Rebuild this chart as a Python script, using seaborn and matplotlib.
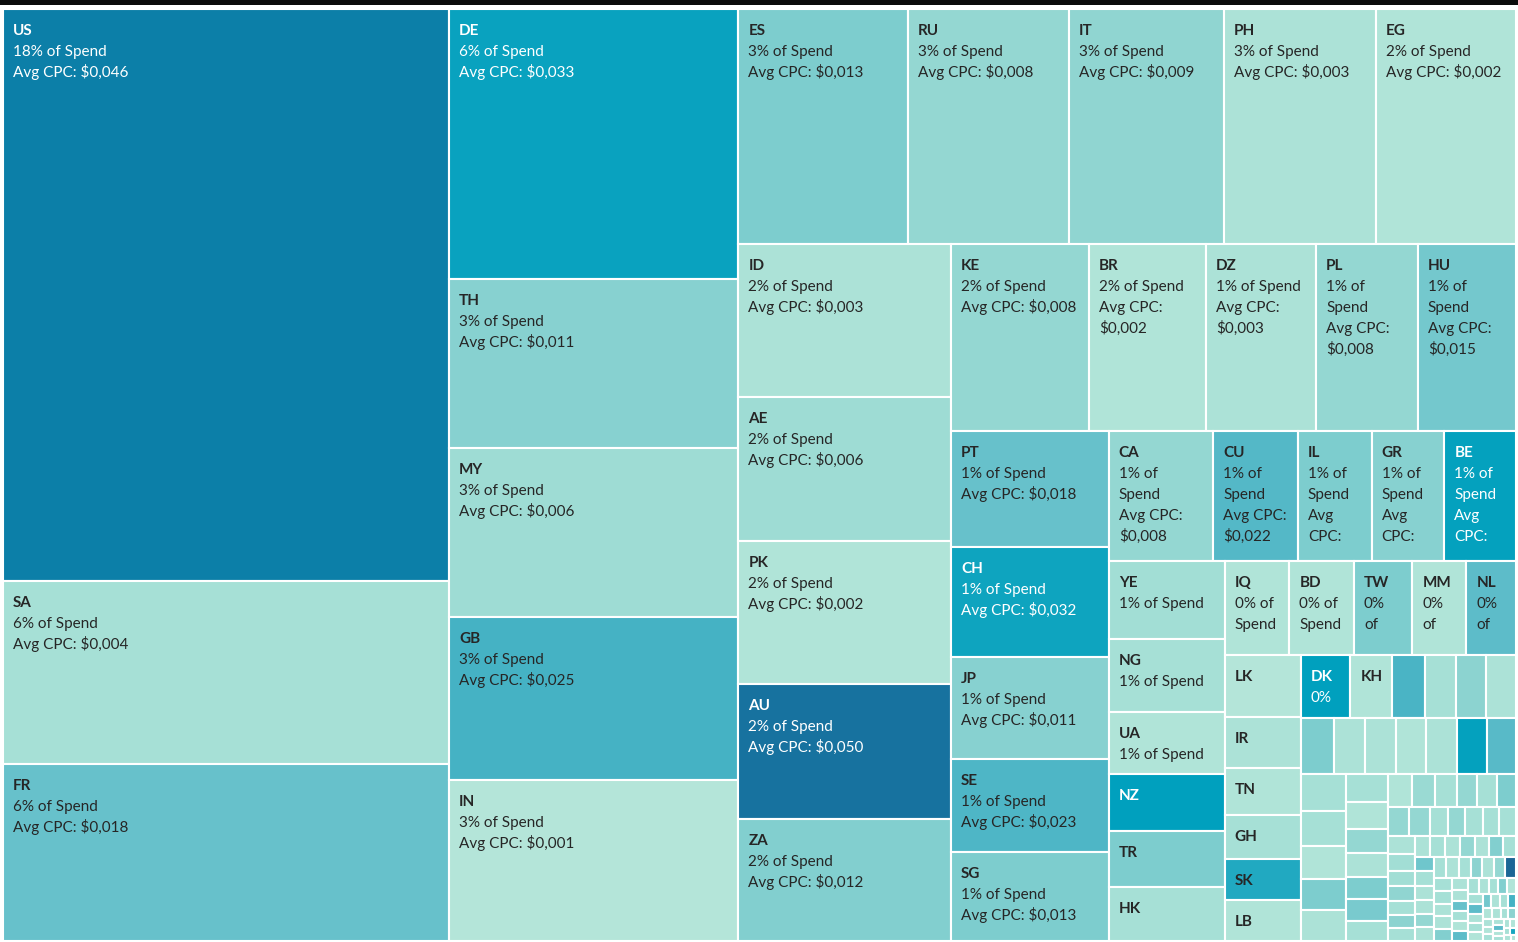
import matplotlib
matplotlib.use("Agg")
import matplotlib.pyplot as plt
import seaborn as sns
from matplotlib.colors import Normalize
from matplotlib.font_manager import FontProperties
from matplotlib.patches import Rectangle

# ---- data: country, share of spend (%), average CPC ($) -------------------
countries = [
    "US", "SA", "FR", "DE", "TH", "MY", "GB", "IN", "ES", "RU", "IT", "PH", "EG",
    "ID", "AE", "PK", "AU", "ZA", "KE", "BR", "DZ", "PL", "HU", "PT", "CH", "JP",
    "SE", "SG", "CA", "CU", "IL", "GR", "BE", "YE", "NG", "UA", "NZ", "TR", "HK",
    "IQ", "BD", "TW", "MM", "NL", "LK", "IR", "TN", "GH", "SK", "LB", "DK", "KH",
    "MX", "AR", "CO", "PE", "CL", "VE", "EC", "BO", "PY", "UY",
    "CR", "PA", "GT", "HN", "SV", "NI", "DO", "JM", "TT", "HT",
    "MA", "LY", "SD", "ET", "TZ", "UG", "CI", "SN", "CM", "AO",
    "MZ", "ZM", "ZW", "BW", "NA", "RW", "MG", "MU", "JO", "SY",
    "KW", "QA", "OM", "BH", "AZ", "GE", "AM", "KZ", "UZ", "KG",
    "TJ", "TM", "AF", "NP", "MN", "LA", "BN", "FJ", "PG", "IE",
    "AT", "CZ", "RO", "BG", "RS", "HR", "SI", "BA", "MK", "AL",
    "ME", "MD", "BY", "LT", "LV", "EE", "FI", "NO", "IS", "LU",
    "MT", "CY", "PR", "MV", "BT", "BZ", "PS", "LR", "SL", "GN",
    "ML", "BF", "NE", "TD", "BJ", "TG", "GA", "CG", "CD", "SO",
    "DJ", "ER", "MW", "LS", "SZ",
]

spend_share = [
    18.06, 5.78, 5.59, 5.54, 3.47, 3.46, 3.33, 3.31, 2.82, 2.68, 2.58, 2.53, 2.33,
    2.30, 2.17, 2.15, 2.03, 1.84, 1.83, 1.55, 1.46, 1.35, 1.30, 1.29, 1.24, 1.13,
    1.04, 1.00, 0.96, 0.78, 0.68, 0.67, 0.66, 0.64, 0.60, 0.51, 0.47, 0.46, 0.44,
    0.43, 0.43, 0.39, 0.36, 0.33, 0.33, 0.28, 0.25, 0.24, 0.22, 0.22, 0.22, 0.185,
    0.148, 0.139, 0.134, 0.134,
    0.131, 0.124, 0.122, 0.121, 0.12, 0.119, 0.117,
    0.117, 0.114, 0.106, 0.1, 0.099,
    0.082, 0.078, 0.072, 0.071, 0.067, 0.063, 0.06,
    0.054, 0.053, 0.05, 0.047, 0.045, 0.043, 0.043,
    0.043, 0.037, 0.036, 0.036, 0.034, 0.034, 0.034,
    0.031, 0.029, 0.028, 0.026, 0.025, 0.024, 0.023,
    0.023, 0.022, 0.022, 0.021, 0.021, 0.02, 0.02,
    0.02, 0.02, 0.019, 0.019, 0.019, 0.018,
    0.018, 0.018, 0.017, 0.017, 0.017, 0.016, 0.016,
    0.016, 0.015, 0.015, 0.015, 0.014,
    0.013, 0.012, 0.012, 0.012, 0.012, 0.012,
    0.012, 0.011, 0.011, 0.01, 0.01, 0.01, 0.009, 0.009, 0.009, 0.008,
    0.008, 0.008, 0.007, 0.007, 0.007, 0.006, 0.006, 0.006, 0.005, 0.005,
    0.005, 0.005, 0.004, 0.004, 0.004, 0.004, 0.003, 0.003, 0.003, 0.002,
]

avg_cpc = [
    0.046, 0.004, 0.018, 0.033, 0.011, 0.006, 0.025, 0.001, 0.013, 0.008, 0.009, 0.003, 0.002,
    0.003, 0.006, 0.002, 0.050, 0.012, 0.008, 0.002, 0.003, 0.008, 0.015, 0.018, 0.032, 0.011,
    0.023, 0.013, 0.008, 0.022, 0.013, 0.011, 0.034, 0.005, 0.004, 0.002, 0.035, 0.013, 0.004,
    0.002, 0.002, 0.013, 0.002, 0.020, 0.001, 0.003, 0.002, 0.004, 0.029, 0.002, 0.035, 0.002,
    0.024, 0.004, 0.010, 0.003,
    0.013, 0.003, 0.003, 0.002, 0.003, 0.034, 0.021,
    0.004, 0.004, 0.002, 0.013, 0.003,
    0.004, 0.002, 0.008, 0.003, 0.013, 0.014, 0.004,
    0.002, 0.007, 0.004, 0.008, 0.004, 0.013, 0.008,
    0.008, 0.004, 0.008, 0.004, 0.004, 0.004, 0.003,
    0.005, 0.005, 0.009, 0.004, 0.010, 0.004, 0.003,
    0.004, 0.003, 0.008, 0.003, 0.012, 0.004, 0.016,
    0.004, 0.003, 0.003, 0.008, 0.003, 0.004,
    0.003, 0.004, 0.010, 0.003, 0.008, 0.055, 0.004,
    0.004, 0.003, 0.003, 0.012, 0.003,
    0.003, 0.018, 0.004, 0.002, 0.020, 0.004,
    0.003, 0.004, 0.012, 0.002, 0.004, 0.020, 0.003, 0.004, 0.002, 0.015,
    0.003, 0.004, 0.025, 0.002, 0.003, 0.004, 0.010, 0.003, 0.002, 0.004,
    0.003, 0.020, 0.002, 0.004, 0.003, 0.002, 0.004, 0.030, 0.003, 0.002,
]

# blue-teal ramp, evenly spaced from 0 to 0.06 CPC
ramp = [
    "#b8e7da", "#a2ded5", "#8bd3d0", "#74c8cd", "#5dbcc9", "#45b2c4", "#17a6c0",
    "#00a0be", "#038fb3", "#0983aa", "#17729f", "#1c6696", "#1f5a8d",
]

FONT = ["Lato", "DejaVu Sans"]
FS = 11
LINE = 21
DARK = "#262626"


def strip_layout(values, x, y, w, h, target=1.6):
    """Squarified strips, aspect judged as strip thickness / cell length."""
    scale = w * h / sum(values)
    areas = [v * scale for v in values]
    rects = []
    i, n = 0, len(areas)
    while i < n:
        column = w >= h
        side = h if column else w

        def worst(row):
            thick = sum(row) / side
            r = 0.0
            for a in row:
                t = thick / (a / thick)
                r = max(r, t / target, target / t)
            return r

        j = i + 1
        best = worst(areas[i:j])
        while j < n:
            cand = worst(areas[i:j + 1])
            if cand > best:
                break
            best = cand
            j += 1
        row = areas[i:j]
        thick = sum(row) / side
        pos = y if column else x
        for a in row:
            length = a / thick
            if column:
                rects.append((x, pos, thick, length))
            else:
                rects.append((pos, y, length, thick))
            pos += length
        if column:
            x += thick
            w -= thick
        else:
            y += thick
            h -= thick
        i = j
    return rects


def wrap(text, prop, maxw, measure):
    lines, cur = [], ""
    for word in text.split(" "):
        trial = word if not cur else cur + " " + word
        if not cur or measure(trial, prop) <= maxw:
            cur = trial
        else:
            lines.append(cur)
            cur = word
    lines.append(cur)
    return lines


def main() -> None:
    sns.set_theme(style="white")
    plt.rcParams["font.family"] = FONT

    W, H = 1513, 932
    fig = plt.figure(figsize=(15.18, 9.42), dpi=100)
    fig.patch.set_facecolor("white")
    fig.add_artist(Rectangle((0, 1 - 5 / 942), 1, 5 / 942, transform=fig.transFigure,
                             facecolor="#0b0b0b", edgecolor="none"))
    ax = fig.add_axes([3 / 1518, 1 / 942, W / 1518, H / 942])
    ax.set_xlim(0, W)
    ax.set_ylim(H, 0)
    ax.axis("off")

    cmap = sns.blend_palette(ramp, as_cmap=True)
    norm = Normalize(0, 0.06)

    order = sorted(range(len(spend_share)), key=lambda k: -spend_share[k])
    vals = [spend_share[k] for k in order]
    total = sum(vals)
    rects = strip_layout(vals, 0, 0, W, H)

    renderer = fig.canvas.get_renderer()
    reg = FontProperties(family=FONT, size=FS)
    bold = FontProperties(family=FONT, size=FS, weight="bold")

    def measure(s, prop):
        return renderer.get_text_width_height_descent(s, prop, ismath=False)[0]

    for k, (rx, ry, rw, rh) in zip(order, rects):
        cpc = avg_cpc[k]
        ax.add_patch(Rectangle((rx, ry), rw, rh, facecolor=cmap(norm(cpc)),
                               edgecolor="white", linewidth=1.5))
        share = spend_share[k] / total * 100
        body = wrap(f"{share:.0f}% of Spend", reg, rw - 20.5, measure)
        body += wrap(f"Avg CPC: ${cpc:.3f}".replace(".", ","), reg, rw - 20.5, measure)
        lines = [countries[k]] + body
        color = "white" if cpc >= 0.03 else DARK
        for li, text in enumerate(lines):
            prop = bold if li == 0 else reg
            pad = 18 if li == 0 else 20.5
            if LINE * (li + 1) + 19.5 > rh or measure(text, prop) + pad > rw:
                break
            ax.text(rx + 10, ry + 26 + li * LINE, text, fontproperties=prop,
                    color=color, ha="left", va="baseline")

    fig.savefig("out.png", dpi=100)
    plt.close(fig)


if __name__ == "__main__":
    main()
